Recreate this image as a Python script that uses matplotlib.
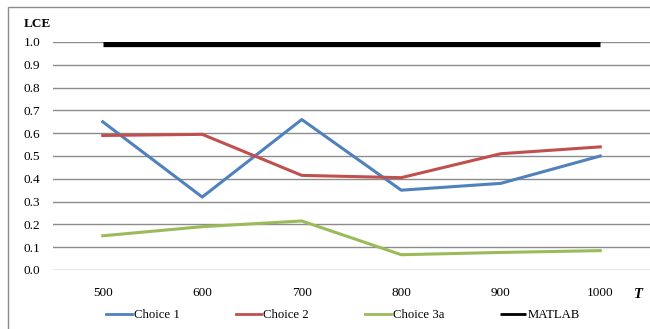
import numpy as np
import matplotlib.pyplot as plt
from matplotlib.patches import Rectangle

# LCE per sample size T
T = [500, 600, 700, 800, 900, 1000]
choice1 = [0.65, 0.32, 0.66, 0.35, 0.38, 0.50]
choice2 = [0.59, 0.595, 0.415, 0.405, 0.51, 0.54]
choice3a = [0.15, 0.19, 0.215, 0.067, 0.077, 0.085]
matlab = [0.993, 0.993, 0.993, 0.993, 0.993, 0.993]

plt.rcParams['font.family'] = ['Liberation Serif', 'DejaVu Serif']

fig = plt.figure(figsize=(6.5, 3.29), dpi=100)
fig.patches.append(Rectangle((8/650, -0.1), 1.2, 1 - 7/329 + 0.1, transform=fig.transFigure,
                             fill=False, edgecolor='#8c8c8c', linewidth=1.0))

ax = fig.add_axes([53/650, 1 - 270/329, 597/650, 228/329])
x = np.arange(len(T))

ax.plot(x, choice1, color='#4F81BD', lw=2.2, label='Choice 1')
ax.plot(x, choice2, color='#C0504D', lw=2.2, label='Choice 2')
ax.plot(x, choice3a, color='#9BBB59', lw=2.2, label='Choice 3a')
ax.plot(x, matlab, color='black', lw=3.8, label='MATLAB', solid_capstyle='butt')

ax.set_xlim(-0.5, len(T) - 0.5)
ax.set_ylim(0, 1.0)
ax.set_yticks(np.arange(0, 1.01, 0.1))
ax.set_yticklabels(['%.1f' % v for v in np.arange(0, 1.01, 0.1)])
ax.set_xticks(x)
ax.set_xticklabels([str(t) for t in T])
ax.tick_params(axis='both', length=0, labelsize=9.5, colors='black')
ax.tick_params(axis='y', pad=9)
ax.tick_params(axis='x', pad=12)
ax.grid(axis='y', color='#8c8c8c', linewidth=1.0)
ax.set_axisbelow(True)
for s in ax.spines.values():
    s.set_visible(False)

fig.text(24/650, 1 - 24/329, 'LCE', fontsize=9.5, fontweight='bold', va='center', ha='left')
fig.text(638/650, 1 - 294/329, 'T', fontsize=10.5, fontweight='bold', style='italic', va='center', ha='center')

leg = fig.legend(loc='center', bbox_to_anchor=(343/650, 1 - 315/329), ncol=4, frameon=False,
                 fontsize=9.2, handlelength=2.0, handletextpad=0.15, columnspacing=4.4)
for h in leg.get_lines():
    h.set_linewidth(2.0)

fig.savefig('out.png', dpi=100)
